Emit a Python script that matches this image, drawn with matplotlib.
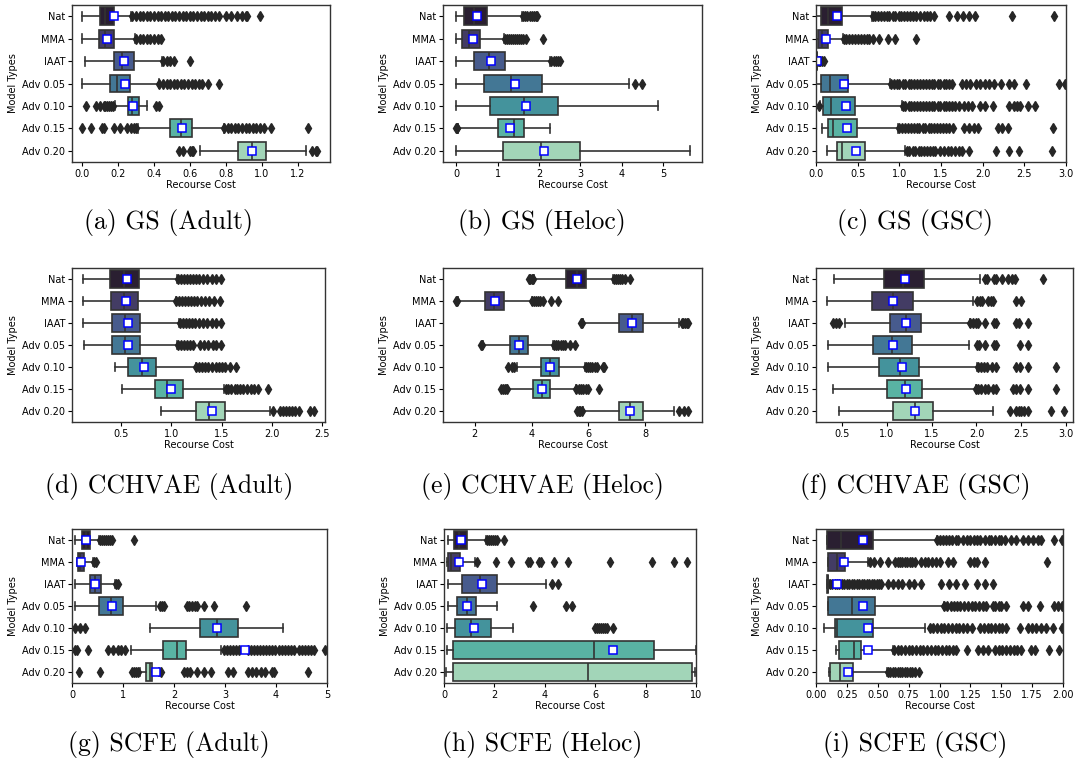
import matplotlib
matplotlib.use("Agg")
import matplotlib.pyplot as plt
import seaborn as sns

W, H = 1078, 766
model_types = ["Nat", "MMA", "IAAT", "Adv 0.05", "Adv 0.10", "Adv 0.15", "Adv 0.20"]

# ---------------- (a) GS (Adult) ----------------
gs_adult_whislo = [0.0, 0.0, 0.018, 0.0, 0.185, 0.31, 0.654]
gs_adult_q1 = [0.098, 0.093, 0.176, 0.157, 0.256, 0.49, 0.87]
gs_adult_med = [0.126, 0.13, 0.222, 0.194, 0.278, 0.552, 0.944]
gs_adult_q3 = [0.176, 0.176, 0.287, 0.268, 0.315, 0.611, 1.024]
gs_adult_whishi = [0.27, 0.296, 0.444, 0.426, 0.361, 0.79, 1.246]
gs_adult_mean = [0.175, 0.139, 0.231, 0.237, 0.283, 0.556, 0.944]
gs_adult_fliers = [
    [0.28, 0.30, 0.32, 0.34, 0.36, 0.38, 0.40, 0.42, 0.44, 0.46, 0.48, 0.50, 0.52, 0.54, 0.56,
     0.58, 0.60, 0.62, 0.64, 0.66, 0.68, 0.70, 0.72, 0.74, 0.76, 0.80, 0.83, 0.86, 0.89, 0.91, 0.92, 0.99],
    [0.30, 0.32, 0.34, 0.36, 0.38, 0.40, 0.42, 0.44],
    [0.45, 0.47, 0.49, 0.51, 0.60],
    [0.43, 0.45, 0.47, 0.49, 0.51, 0.53, 0.55, 0.57, 0.59, 0.61, 0.63, 0.65, 0.67, 0.70, 0.76],
    [0.02, 0.08, 0.10, 0.12, 0.13, 0.14, 0.15, 0.16, 0.17, 0.41, 0.43],
    [0.0, 0.05, 0.11, 0.12, 0.18, 0.21, 0.25, 0.27, 0.29, 0.30,
     0.79, 0.81, 0.83, 0.85, 0.87, 0.89, 0.91, 0.93, 0.95, 0.97, 0.99, 1.01, 1.05, 1.26],
    [0.54, 0.56, 0.60, 0.61, 0.62, 1.28, 1.30, 1.31],
]
gs_adult_xlim = (-0.056, 1.38)
gs_adult_xticks = [0.0, 0.2, 0.4, 0.6, 0.8, 1.0, 1.2]
gs_adult_xticklabels = ["0.0", "0.2", "0.4", "0.6", "0.8", "1.0", "1.2"]

# ---------------- (b) GS (Heloc) ----------------
gs_heloc_whislo = [0.0, 0.0, 0.0, 0.0, 0.0, 0.04, 0.0]
gs_heloc_q1 = [0.177, 0.137, 0.42, 0.66, 0.806, 1.008, 1.13]
gs_heloc_med = [0.435, 0.315, 0.78, 1.32, 1.63, 1.387, 2.056]
gs_heloc_q3 = [0.742, 0.58, 1.185, 2.07, 2.45, 1.645, 3.0]
gs_heloc_whishi = [1.59, 1.145, 2.27, 4.17, 4.87, 2.27, 5.66]
gs_heloc_mean = [0.5, 0.40, 0.84, 1.43, 1.685, 1.306, 2.13]
gs_heloc_fliers = [
    [1.62, 1.67, 1.72, 1.77, 1.82, 1.87, 1.92, 1.95],
    [1.17, 1.22, 1.27, 1.32, 1.37, 1.42, 1.47, 1.52, 1.57, 1.62, 1.68, 2.10],
    [2.30, 2.35, 2.40, 2.45, 2.50],
    [4.33, 4.50],
    [],
    [0.0, 0.01, 0.02],
    [],
]
gs_heloc_xlim = (-0.323, 5.94)
gs_heloc_xticks = [0, 1, 2, 3, 4, 5]
gs_heloc_xticklabels = ["0", "1", "2", "3", "4", "5"]

# ---------------- (c) GS (GSC) ----------------
gs_gsc_whislo = [0.0, 0.0, 0.0, 0.0, 0.048, 0.068, 0.136]
gs_gsc_q1 = [0.056, 0.02, 0.002, 0.056, 0.08, 0.148, 0.248]
gs_gsc_med = [0.148, 0.068, 0.006, 0.168, 0.176, 0.208, 0.308]
gs_gsc_q3 = [0.308, 0.148, 0.014, 0.388, 0.468, 0.488, 0.588]
gs_gsc_whishi = [0.668, 0.32, 0.025, 0.888, 1.028, 0.988, 1.068]
gs_gsc_mean = [0.248, 0.116, 0.014, 0.336, 0.356, 0.376, 0.48]
gs_gsc_fliers = [
    [0.68, 0.71, 0.74, 0.78, 0.81, 0.85, 0.88, 0.92, 0.95, 0.99, 1.02, 1.06, 1.09, 1.13, 1.16, 1.20,
     1.25, 1.29, 1.33, 1.37, 1.41, 1.60, 1.69, 1.76, 1.83, 1.91, 2.35, 2.86],
    [0.33, 0.36, 0.40, 0.43, 0.47, 0.50, 0.54, 0.57, 0.61, 0.64, 0.68, 0.76, 0.86, 0.95, 1.20],
    [0.03, 0.05, 0.07, 0.09],
    [0.90, 0.93, 0.97, 1.00, 1.04, 1.07, 1.11, 1.14, 1.18, 1.21, 1.25, 1.28, 1.32, 1.35, 1.39, 1.42,
     1.46, 1.49, 1.53, 1.56, 1.60, 1.63, 1.75, 1.80, 1.85, 1.92, 1.97, 2.03, 2.08, 2.13, 2.22, 2.32,
     2.38, 2.52, 2.92, 2.99],
    [0.036, 1.04, 1.07, 1.11, 1.14, 1.18, 1.21, 1.25, 1.28, 1.32, 1.35, 1.39, 1.42, 1.46, 1.49, 1.53,
     1.56, 1.60, 1.63, 1.67, 1.72, 1.77, 1.82, 1.87, 1.97, 2.03, 2.12, 2.32, 2.37, 2.41, 2.45, 2.54, 2.63],
    [1.00, 1.03, 1.07, 1.10, 1.14, 1.17, 1.21, 1.24, 1.28, 1.31, 1.35, 1.38, 1.42, 1.45, 1.49, 1.52,
     1.56, 1.60, 1.64, 1.78, 1.84, 1.89, 1.94, 2.18, 2.23, 2.30, 2.84],
    [1.09, 1.12, 1.16, 1.19, 1.23, 1.26, 1.30, 1.33, 1.37, 1.40, 1.43, 1.49, 1.53, 1.58, 1.62, 1.67,
     1.71, 1.75, 1.83, 2.16, 2.31, 2.43, 2.83],
]
gs_gsc_xlim = (0.0, 3.0)
gs_gsc_xticks = [0.0, 0.5, 1.0, 1.5, 2.0, 2.5, 3.0]
gs_gsc_xticklabels = ["0.0", "0.5", "1.0", "1.5", "2.0", "2.5", "3.0"]

# ---------------- (d) CCHVAE (Adult) ----------------
cchvae_adult_whislo = [0.12, 0.12, 0.12, 0.127, 0.443, 0.51, 0.90]
cchvae_adult_q1 = [0.393, 0.40, 0.41, 0.41, 0.567, 0.833, 1.243]
cchvae_adult_med = [0.527, 0.533, 0.537, 0.537, 0.71, 0.96, 1.377]
cchvae_adult_q3 = [0.677, 0.667, 0.687, 0.687, 0.843, 1.12, 1.533]
cchvae_adult_whishi = [1.06, 1.043, 1.077, 1.06, 1.243, 1.527, 1.987]
cchvae_adult_mean = [0.56, 0.553, 0.57, 0.567, 0.727, 0.993, 1.40]
cchvae_adult_fliers = [
    [1.07, 1.10, 1.13, 1.16, 1.19, 1.22, 1.25, 1.28, 1.32, 1.36, 1.40, 1.44, 1.49],
    [1.05, 1.08, 1.11, 1.14, 1.17, 1.20, 1.23, 1.26, 1.30, 1.34, 1.38, 1.42, 1.48],
    [1.09, 1.12, 1.15, 1.18, 1.21, 1.24, 1.28, 1.32, 1.36, 1.40, 1.44, 1.49],
    [1.07, 1.10, 1.13, 1.16, 1.19, 1.22, 1.29, 1.33, 1.37, 1.41, 1.44, 1.49],
    [1.25, 1.28, 1.31, 1.34, 1.37, 1.40, 1.44, 1.47, 1.50, 1.53, 1.58, 1.64],
    [1.54, 1.56, 1.59, 1.63, 1.65, 1.68, 1.71, 1.75, 1.79, 1.82, 1.86, 1.96],
    [2.01, 2.08, 2.11, 2.14, 2.17, 2.20, 2.23, 2.27, 2.38, 2.42],
]
cchvae_adult_xlim = (0.011, 2.53)
cchvae_adult_xticks = [0.5, 1.0, 1.5, 2.0, 2.5]
cchvae_adult_xticklabels = ["0.5", "1.0", "1.5", "2.0", "2.5"]

# ---------------- (e) CCHVAE (Heloc) ----------------
cchvae_heloc_whislo = [4.09, 1.41, 5.82, 2.29, 3.47, 3.14, 5.82]
cchvae_heloc_q1 = [5.21, 2.35, 7.06, 3.24, 4.32, 4.04, 7.06]
cchvae_heloc_med = [5.59, 2.67, 7.53, 3.56, 4.65, 4.35, 7.47]
cchvae_heloc_q3 = [5.92, 3.02, 7.94, 3.88, 4.98, 4.65, 7.92]
cchvae_heloc_whishi = [6.88, 4.0, 9.18, 4.74, 5.88, 5.56, 9.0]
cchvae_heloc_mean = [5.59, 2.71, 7.53, 3.56, 4.65, 4.35, 7.47]
cchvae_heloc_fliers = [
    [3.90, 3.95, 4.00, 4.05, 6.90, 6.98, 7.05, 7.12, 7.20, 7.28, 7.45],
    [1.33, 1.37, 4.03, 4.10, 4.17, 4.24, 4.31, 4.40, 4.70, 4.92],
    [5.73, 5.78, 9.28, 9.34, 9.40, 9.46, 9.52],
    [2.22, 2.27, 4.78, 4.86, 4.94, 5.02, 5.10, 5.18, 5.35, 5.52],
    [3.18, 3.32, 3.38, 5.90, 5.98, 6.06, 6.14, 6.22, 6.30, 6.50, 6.56],
    [2.93, 3.00, 3.07, 3.12, 5.58, 5.66, 5.74, 5.82, 5.90, 5.97, 6.38],
    [5.60, 5.66, 5.72, 5.78, 9.18, 9.35, 9.52],
]
cchvae_heloc_xlim = (0.88, 10.0)
cchvae_heloc_xticks = [2, 4, 6, 8]
cchvae_heloc_xticklabels = ["2", "4", "6", "8"]

# ---------------- (f) CCHVAE (GSC) ----------------
cchvae_gsc_whislo = [0.415, 0.34, 0.537, 0.35, 0.35, 0.407, 0.474]
cchvae_gsc_q1 = [0.97, 0.833, 1.037, 0.844, 0.918, 1.0, 1.067]
cchvae_gsc_med = [1.185, 1.067, 1.215, 1.056, 1.148, 1.204, 1.315]
cchvae_gsc_q3 = [1.42, 1.296, 1.38, 1.278, 1.36, 1.389, 1.519]
cchvae_gsc_whishi = [2.04, 1.963, 1.926, 1.918, 2.01, 1.993, 2.185]
cchvae_gsc_mean = [1.204, 1.067, 1.215, 1.067, 1.167, 1.215, 1.315]
cchvae_gsc_fliers = [
    [2.09, 2.12, 2.19, 2.22, 2.28, 2.35, 2.40, 2.43, 2.74],
    [2.01, 2.04, 2.06, 2.13, 2.16, 2.18, 2.44, 2.49],
    [0.40, 0.44, 0.47, 1.93, 1.96, 1.99, 2.02, 2.09, 2.20, 2.22, 2.44, 2.47, 2.57],
    [2.01, 2.03, 2.09, 2.20, 2.22, 2.48, 2.57],
    [2.02, 2.05, 2.08, 2.12, 2.17, 2.22, 2.44, 2.48, 2.57, 2.88],
    [2.00, 2.02, 2.05, 2.09, 2.13, 2.18, 2.22, 2.41, 2.44, 2.48, 2.57, 2.89],
    [2.37, 2.44, 2.47, 2.50, 2.53, 2.57, 2.83, 2.97],
]
cchvae_gsc_xlim = (0.215, 3.074)
cchvae_gsc_xticks = [0.5, 1.0, 1.5, 2.0, 2.5, 3.0]
cchvae_gsc_xticklabels = ["0.5", "1.0", "1.5", "2.0", "2.5", "3.0"]

# ---------------- (g) SCFE (Adult) ----------------
scfe_adult_whislo = [0.066, 0.10, 0.066, 0.066, 1.53, 1.16, 1.33]
scfe_adult_q1 = [0.20, 0.11, 0.36, 0.52, 2.51, 1.79, 1.46]
scfe_adult_med = [0.28, 0.16, 0.46, 0.77, 2.85, 2.05, 1.53]
scfe_adult_q3 = [0.36, 0.24, 0.57, 1.0, 3.26, 2.23, 1.57]
scfe_adult_whishi = [0.52, 0.42, 0.85, 1.64, 4.14, 2.92, 1.70]
scfe_adult_mean = [0.28, 0.18, 0.46, 0.79, 2.85, 3.39, 1.64]
scfe_adult_fliers = [
    [0.54, 0.58, 0.62, 0.66, 0.70, 0.74, 0.78, 1.21],
    [0.44, 0.47],
    [0.86, 0.90],
    [1.72, 1.76, 1.80, 2.25, 2.30, 2.35, 2.42, 2.46, 2.59, 2.79, 3.41],
    [0.05, 0.15, 0.25],
    [0.05, 0.10, 0.31, 0.70, 0.80, 0.90, 0.97, 1.03,
     2.98, 3.04, 3.10, 3.16, 3.22, 3.28, 3.45, 3.51, 3.57, 3.63, 3.69, 3.75, 3.81, 3.87, 3.93,
     3.99, 4.05, 4.11, 4.17, 4.23, 4.29, 4.35, 4.45, 4.51, 4.57, 4.63, 4.69, 4.75, 4.96],
    [0.13, 0.54, 1.18, 1.22, 1.26, 1.30, 1.75, 2.20, 2.26, 2.32, 2.46, 2.58, 2.72, 3.05, 3.16,
     3.45, 3.53, 3.61, 3.70, 3.79, 3.92, 3.97, 4.62],
]
scfe_adult_xlim = (0.0, 5.0)
scfe_adult_xticks = [0, 1, 2, 3, 4, 5]
scfe_adult_xticklabels = ["0", "1", "2", "3", "4", "5"]

# ---------------- (h) SCFE (Heloc) ----------------
scfe_heloc_whislo = [0.17, 0.13, 0.17, 0.17, 0.13, 0.13, 0.08]
scfe_heloc_q1 = [0.40, 0.17, 0.70, 0.53, 0.44, 0.34, 0.34]
scfe_heloc_med = [0.61, 0.26, 1.43, 0.90, 1.06, 5.96, 5.73]
scfe_heloc_q3 = [0.93, 0.64, 2.12, 1.27, 1.87, 8.32, 9.84]
scfe_heloc_whishi = [1.67, 1.23, 4.04, 2.09, 2.73, 10.0, 9.97]
scfe_heloc_mean = [0.66, 0.61, 1.50, 0.90, 1.20, 6.70, 10.6]
scfe_heloc_fliers = [
    [1.70, 1.78, 1.86, 1.94, 2.02, 2.12, 2.38],
    [1.32, 2.07, 2.65, 3.35, 3.40, 3.77, 3.85, 4.37, 4.91, 6.57, 8.25, 9.11, 9.64],
    [4.28, 4.54],
    [3.55, 4.85, 5.07],
    [5.98, 6.06, 6.14, 6.22, 6.30, 6.38, 6.46, 6.72],
    [],
    [],
]
scfe_heloc_xlim = (0.0, 10.0)
scfe_heloc_xticks = [0, 2, 4, 6, 8, 10]
scfe_heloc_xticklabels = ["0", "2", "4", "6", "8", "10"]

# ---------------- (i) SCFE (GSC) ----------------
scfe_gsc_whislo = [0.092, 0.094, 0.09, 0.10, 0.065, 0.162, 0.108]
scfe_gsc_q1 = [0.092, 0.094, 0.092, 0.10, 0.154, 0.189, 0.113]
scfe_gsc_med = [0.20, 0.167, 0.095, 0.288, 0.172, 0.31, 0.194]
scfe_gsc_q3 = [0.458, 0.234, 0.10, 0.477, 0.458, 0.361, 0.296]
scfe_gsc_whishi = [0.976, 0.423, 0.105, 1.035, 0.88, 0.625, 0.571]
scfe_gsc_mean = [0.377, 0.226, 0.167, 0.377, 0.423, 0.423, 0.261]
scfe_gsc_fliers = [
    [0.98, 1.00, 1.03, 1.05, 1.08, 1.10, 1.13, 1.15, 1.19, 1.22, 1.25, 1.28, 1.30, 1.33, 1.37, 1.40,
     1.42, 1.45, 1.48, 1.50, 1.53, 1.58, 1.62, 1.68, 1.72, 1.76, 1.80, 1.82, 1.93, 1.99],
    [0.44, 0.47, 0.52, 0.58, 0.64, 0.66, 0.68, 0.70, 0.72, 0.74, 0.76, 0.78, 0.80, 0.85, 0.88, 0.91,
     0.94, 0.97, 1.00, 1.07, 1.11, 1.25, 1.28, 1.30, 1.37, 1.87],
    [0.11, 0.13, 0.15, 0.17, 0.19, 0.21, 0.23, 0.25, 0.27, 0.29, 0.31, 0.33, 0.35, 0.37, 0.39, 0.41,
     0.43, 0.45, 0.47, 0.49, 0.51, 0.53, 0.58, 0.62, 0.66, 0.70, 0.75, 0.79, 0.85, 1.01, 1.08, 1.13,
     1.21, 1.30, 1.37, 1.43],
    [1.04, 1.06, 1.09, 1.12, 1.14, 1.17, 1.20, 1.23, 1.26, 1.29, 1.32, 1.35, 1.38, 1.43, 1.45, 1.48,
     1.50, 1.54, 1.68, 1.72, 1.81, 1.93, 1.96, 1.99],
    [0.92, 0.95, 0.98, 1.01, 1.04, 1.07, 1.10, 1.13, 1.16, 1.19, 1.22, 1.26, 1.33, 1.36, 1.39, 1.42,
     1.45, 1.48, 1.51, 1.54, 1.65, 1.72, 1.75, 1.78, 1.82, 1.86, 1.92, 1.99],
    [0.63, 0.66, 0.69, 0.72, 0.75, 0.78, 0.81, 0.84, 0.87, 0.90, 0.93, 0.96, 0.99, 1.02, 1.05, 1.08,
     1.11, 1.13, 1.22, 1.31, 1.35, 1.39, 1.45, 1.48, 1.51, 1.54, 1.57, 1.60, 1.63, 1.66, 1.74, 1.77,
     1.89, 1.97],
    [0.58, 0.60, 0.62, 0.64, 0.66, 0.68, 0.70, 0.72, 0.74, 0.76, 0.78, 0.80, 0.83],
]
scfe_gsc_xlim = (0.0, 2.0)
scfe_gsc_xticks = [0.0, 0.25, 0.5, 0.75, 1.0, 1.25, 1.5, 1.75, 2.0]
scfe_gsc_xticklabels = ["0.00", "0.25", "0.50", "0.75", "1.00", "1.25", "1.50", "1.75", "2.00"]

captions = ["(a) GS (Adult)", "(b) GS (Heloc)", "(c) GS (GSC)",
            "(d) CCHVAE (Adult)", "(e) CCHVAE (Heloc)", "(f) CCHVAE (GSC)",
            "(g) SCFE (Adult)", "(h) SCFE (Heloc)", "(i) SCFE (GSC)"]

panels = [
    (gs_adult_whislo, gs_adult_q1, gs_adult_med, gs_adult_q3, gs_adult_whishi, gs_adult_mean, gs_adult_fliers,
     gs_adult_xlim, gs_adult_xticks, gs_adult_xticklabels),
    (gs_heloc_whislo, gs_heloc_q1, gs_heloc_med, gs_heloc_q3, gs_heloc_whishi, gs_heloc_mean, gs_heloc_fliers,
     gs_heloc_xlim, gs_heloc_xticks, gs_heloc_xticklabels),
    (gs_gsc_whislo, gs_gsc_q1, gs_gsc_med, gs_gsc_q3, gs_gsc_whishi, gs_gsc_mean, gs_gsc_fliers,
     gs_gsc_xlim, gs_gsc_xticks, gs_gsc_xticklabels),
    (cchvae_adult_whislo, cchvae_adult_q1, cchvae_adult_med, cchvae_adult_q3, cchvae_adult_whishi,
     cchvae_adult_mean, cchvae_adult_fliers, cchvae_adult_xlim, cchvae_adult_xticks, cchvae_adult_xticklabels),
    (cchvae_heloc_whislo, cchvae_heloc_q1, cchvae_heloc_med, cchvae_heloc_q3, cchvae_heloc_whishi,
     cchvae_heloc_mean, cchvae_heloc_fliers, cchvae_heloc_xlim, cchvae_heloc_xticks, cchvae_heloc_xticklabels),
    (cchvae_gsc_whislo, cchvae_gsc_q1, cchvae_gsc_med, cchvae_gsc_q3, cchvae_gsc_whishi,
     cchvae_gsc_mean, cchvae_gsc_fliers, cchvae_gsc_xlim, cchvae_gsc_xticks, cchvae_gsc_xticklabels),
    (scfe_adult_whislo, scfe_adult_q1, scfe_adult_med, scfe_adult_q3, scfe_adult_whishi, scfe_adult_mean,
     scfe_adult_fliers, scfe_adult_xlim, scfe_adult_xticks, scfe_adult_xticklabels),
    (scfe_heloc_whislo, scfe_heloc_q1, scfe_heloc_med, scfe_heloc_q3, scfe_heloc_whishi, scfe_heloc_mean,
     scfe_heloc_fliers, scfe_heloc_xlim, scfe_heloc_xticks, scfe_heloc_xticklabels),
    (scfe_gsc_whislo, scfe_gsc_q1, scfe_gsc_med, scfe_gsc_q3, scfe_gsc_whishi, scfe_gsc_mean,
     scfe_gsc_fliers, scfe_gsc_xlim, scfe_gsc_xticks, scfe_gsc_xticklabels),
]

# layout (pixels): left/right per panel, top/bottom per row
col_lr = [[(72, 330), (443, 702), (816, 1066)],
          [(72, 325), (443, 702), (816, 1073)],
          [(72, 327), (444, 696), (816, 1063)]]
row_tb = [(5, 162), (268, 422), (529, 683)]
caption_x = [169, 542, 915]
caption_y = [222, 487, 745]

pal = sns.color_palette("mako", 7)
box_colors = [sns.desaturate(c, 0.75) for c in pal]
line_col = "#262626"

fig = plt.figure(figsize=(W / 100, H / 100), dpi=100)

for idx, p in enumerate(panels):
    wlo, q1, med, q3, whi, mean, fliers, xlim, xticks, xticklabels = p
    r, c = divmod(idx, 3)
    l, rr = col_lr[r][c]
    t, b = row_tb[r]
    ax = fig.add_axes([l / W, 1 - b / H, (rr - l) / W, (b - t) / H])
    stats = []
    for i in range(7):
        stats.append(dict(med=med[i], q1=q1[i], q3=q3[i], whislo=wlo[i], whishi=whi[i],
                          mean=mean[i], fliers=fliers[i], label=model_types[i]))
    bp = ax.bxp(stats, positions=list(range(7)), widths=0.8, orientation="horizontal",
                patch_artist=True, showmeans=True, manage_ticks=False,
                boxprops=dict(edgecolor="#333333", linewidth=1.2),
                whiskerprops=dict(color="#333333", linewidth=1.2),
                capprops=dict(color="#333333", linewidth=1.2),
                medianprops=dict(color="#333333", linewidth=1.2),
                flierprops=dict(marker="d", markerfacecolor=line_col, markeredgecolor=line_col,
                                markersize=5.0, linestyle="none"),
                meanprops=dict(marker="s", markerfacecolor="white", markeredgecolor="blue",
                               markersize=5.2, markeredgewidth=1.1))
    for patch, col in zip(bp["boxes"], box_colors):
        patch.set_facecolor(col)
    ax.set_ylim(6.5, -0.5)
    ax.set_yticks(list(range(7)))
    ax.set_yticklabels(model_types)
    ax.set_xlim(*xlim)
    ax.set_xticks(xticks)
    ax.set_xticklabels(xticklabels)
    ax.tick_params(labelsize=7, length=3, width=0.8, pad=2)
    ax.set_xlabel("Recourse Cost", fontsize=7, labelpad=1)
    ax.set_ylabel("Model Types", fontsize=7, labelpad=3)
    for s in ax.spines.values():
        s.set_color("#333333")
        s.set_linewidth(1.0)
    fig.text(caption_x[c] / W, 1 - caption_y[r] / H, captions[idx], fontsize=18.5,
             family="cmr10", ha="center", va="center")

fig.savefig("out.png", dpi=100)
